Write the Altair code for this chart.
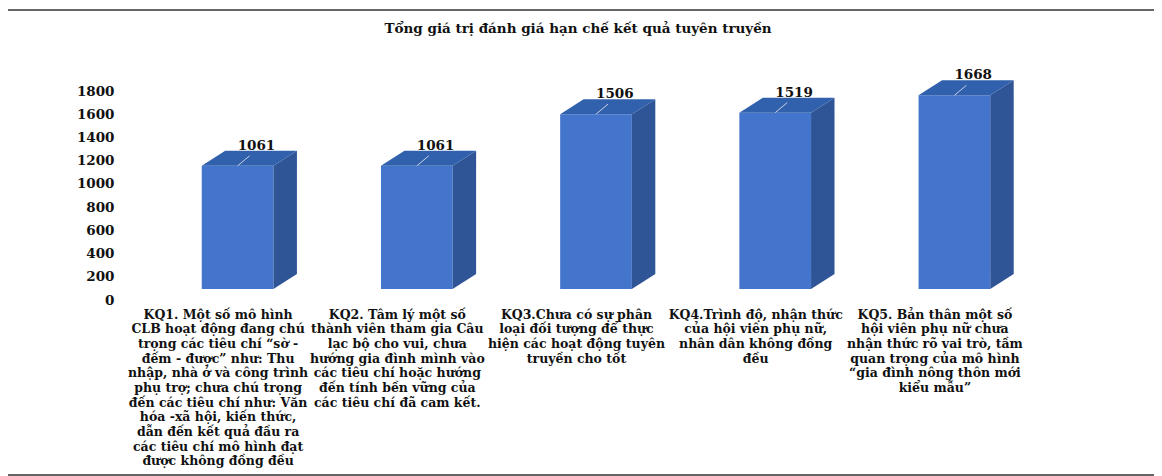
import json
import altair as alt
import pandas as pd

# ---- data ----
categories = ["KQ1", "KQ2", "KQ3", "KQ4", "KQ5"]
values = [1061, 1061, 1506, 1519, 1668]
label_lines = [
    ["KQ1. Một số mô hình", "CLB hoạt động đang chú", "trọng các tiêu chí “sờ -",
     "đếm - được” như: Thu", "nhập, nhà ở và công trình", "phụ trợ; chưa chú trọng",
     "đến các tiêu chí như: Văn", "hóa -xã hội, kiến thức,", "dẫn đến kết quả đầu ra",
     "các tiêu chí mô hình đạt", "được không đồng đều"],
    ["KQ2. Tâm lý một số", "thành viên tham gia Câu", "lạc bộ cho vui, chưa",
     "hướng gia đình mình vào", "các tiêu chí hoặc hướng", "đến tính bền vững của",
     "các tiêu chí đã cam kết."],
    ["KQ3.Chưa có sự phân", "loại đối tượng để thực", "hiện các hoạt động tuyên",
     "truyền cho tốt"],
    ["KQ4.Trình độ, nhận thức", "của hội viên phụ nữ,", "nhân dân không đồng", "đều"],
    ["KQ5. Bản thân một số", "hội viên phụ nữ chưa", "nhận thức rõ vai trò, tầm",
     "quan trọng của mô hình", "“gia đình nông thôn mới", "kiểu mẫu”"],
]
y_ticks = [0, 200, 400, 600, 800, 1000, 1200, 1400, 1600, 1800]
title_text = "Tổng giá trị đánh giá hạn chế kết quả tuyên truyền"

# ---- style / geometry constants ----
W, H = 896, 209
HW = 0.2          # half width of the front face (x units)
DX = 0.131        # depth in x (x units)
DY = 129          # depth in y (value units)
FRONT = "#4475cc"
SIDE = "#2f5597"
TOP = "#3160ad"
FONT = "DejaVu Serif"

idx = list(range(len(categories)))
front = pd.DataFrame({"i": idx, "cat": categories, "v": values,
                      "x0": [i - HW for i in idx], "x1": [i + HW for i in idx]})
side_rows, top_rows, lead_rows = [], [], []
for i, c, v in zip(idx, categories, values):
    side_rows.append({"cat": c, "x": i + HW, "lo": 0, "hi": v})
    side_rows.append({"cat": c, "x": i + HW + DX, "lo": DY, "hi": v + DY})
    top_rows.append({"cat": c, "y": v, "xa": i - HW, "xb": i + HW})
    top_rows.append({"cat": c, "y": v + DY, "xa": i - HW + DX, "xb": i + HW + DX})
    lead_rows.append({"cat": c, "x": i, "y": v, "x2": i + 0.067, "y2": v + 86,
                      "tx": i + 0.105, "ty": v + DY, "v": v})
side = pd.DataFrame(side_rows)
top = pd.DataFrame(top_rows)
lead = pd.DataFrame(lead_rows)

xs = alt.Scale(domain=[-0.5, 4.5], nice=False, zero=False)
ys = alt.Scale(domain=[0, 1800], nice=False, zero=False)

label_expr = json.dumps(label_lines, ensure_ascii=False) + "[datum.value]"

x_axis = alt.Axis(values=idx, labelExpr=label_expr, title=None, ticks=False, domain=False,
                  grid=False, labelFont=FONT, labelFontWeight="bold", labelFontSize=12.5,
                  labelColor="#111", labelLineHeight=14.7, labelBaseline="top",
                  labelAlign="center", labelPadding=19, labelOffset=-20, labelLimit=400,
                  labelOverlap=False, labelFlush=False, labelBound=False)
y_axis = alt.Axis(values=y_ticks, title=None, ticks=False, domain=False, grid=False,
                  format="d", labelOverlap=False, labelFlush=False, labelBound=False,
                  labelFont=FONT, labelFontWeight="bold", labelFontSize=13.5,
                  labelColor="#111", labelPadding=34, labelOffset=11)

front_layer = alt.Chart(front).mark_rect(color=FRONT).encode(
    x=alt.X("x0:Q", scale=xs, axis=x_axis),
    x2="x1:Q",
    y=alt.Y("v:Q", scale=ys, axis=y_axis),
    y2=alt.Y2(datum=0),
)

side_layer = alt.Chart(side).mark_area(color=SIDE, orient="vertical").encode(
    x=alt.X("x:Q", scale=xs, axis=x_axis),
    y=alt.Y("hi:Q", scale=ys, stack=False, axis=y_axis),
    y2="lo:Q",
    detail="cat:N",
)

top_layer = alt.Chart(top).mark_area(color=TOP, orient="horizontal").encode(
    y=alt.Y("y:Q", scale=ys, axis=y_axis),
    x=alt.X("xa:Q", scale=xs, stack=False, axis=x_axis),
    x2="xb:Q",
    detail="cat:N",
)

lead_layer = alt.Chart(lead).mark_rule(color="#c8d2e6", strokeWidth=1).encode(
    x=alt.X("x:Q", scale=xs, axis=x_axis), x2="x2:Q",
    y=alt.Y("y:Q", scale=ys, axis=y_axis), y2="y2:Q",
)

text_layer = alt.Chart(lead).mark_text(font=FONT, fontWeight="bold", fontSize=13.5,
                                       color="#111", baseline="alphabetic", dy=-1).encode(
    x=alt.X("tx:Q", scale=xs, axis=x_axis),
    y=alt.Y("ty:Q", scale=ys, axis=y_axis),
    text="v:Q",
)

frame = alt.Chart(front).mark_rect(fill=None, stroke="#666", strokeWidth=1.3).encode(
    x=alt.value(-141), x2=alt.value(1009), y=alt.value(-70), y2=alt.value(395)
)

title_layer = alt.Chart(pd.DataFrame({"t": [title_text]})).mark_text(
    font=FONT, fontWeight="bold", fontSize=13.5, color="#111",
    align="center", baseline="middle").encode(
    x=alt.value(W / 2 - 18), y=alt.value(-51), text="t:N"
)

chart = alt.layer(frame, front_layer, side_layer, top_layer, lead_layer, text_layer,
                  title_layer).properties(
    width=W, height=H,
    autosize=alt.AutoSizeParams(type="none"),
    padding={"left": 140, "top": 72, "right": 110, "bottom": 187},
).configure(background="white").configure_view(strokeWidth=0).configure_axis(
    labelOverlap=False
)

chart.save("out.html", embed_options={"renderer": "svg", "actions": False})
